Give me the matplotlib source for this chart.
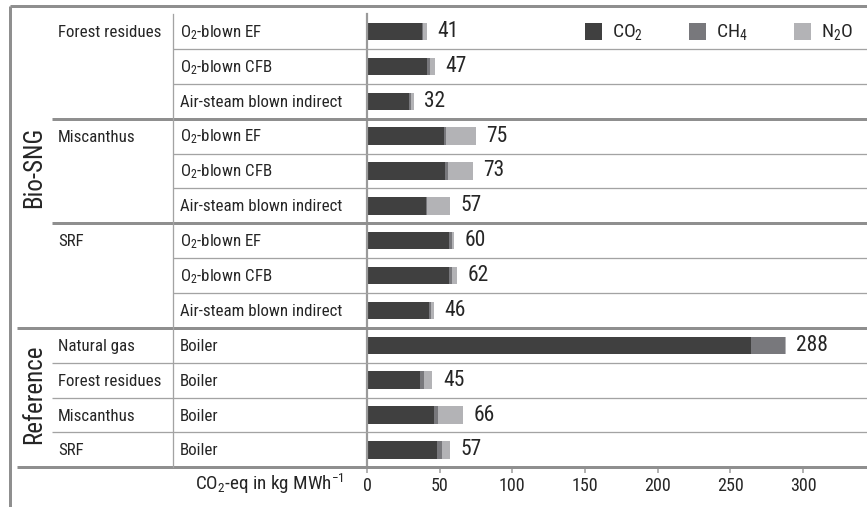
import matplotlib
matplotlib.use('Agg')
import matplotlib.pyplot as plt
import matplotlib.transforms as mtransforms
from matplotlib.lines import Line2D
from matplotlib.patches import Rectangle

# ---------------- data ----------------
groups = ['Bio-SNG', 'Reference']
group_first_row = [0, 9]
group_last_row = [8, 12]
feedstocks = ['Forest residues', '', '', 'Miscanthus', '', '', 'SRF', '', '',
              'Natural gas', 'Forest residues', 'Miscanthus', 'SRF']
technologies = ['O$_2$-blown EF', 'O$_2$-blown CFB', 'Air-steam blown indirect',
                'O$_2$-blown EF', 'O$_2$-blown CFB', 'Air-steam blown indirect',
                'O$_2$-blown EF', 'O$_2$-blown CFB', 'Air-steam blown indirect',
                'Boiler', 'Boiler', 'Boiler', 'Boiler']
co2 = [38.0, 41.3, 29.2, 53.0, 53.9, 40.6, 56.5, 56.5, 42.7, 264.5, 36.5, 46.1, 48.2]
ch4 = [0.5, 1.9, 0.9, 1.4, 1.9, 0.5, 1.8, 2.3, 1.4, 23.0, 2.8, 2.8, 3.5]
n2o = [2.5, 3.8, 1.9, 20.6, 17.2, 15.9, 1.7, 3.2, 1.9, 0.5, 5.7, 17.1, 5.3]
totals = [41, 47, 32, 75, 73, 57, 60, 62, 46, 288, 45, 66, 57]
series_names = ['CO$_2$', 'CH$_4$', 'N$_2$O']
x_ticks = [0, 50, 100, 150, 200, 250, 300]
x_label = 'CO$_2$-eq in kg MWh$^{-1}$'

# ---------------- style ----------------
FONT = ['Roboto Condensed', 'DejaVu Sans']
plt.rcParams['font.family'] = FONT
plt.rcParams['mathtext.fontset'] = 'custom'
plt.rcParams['mathtext.rm'] = 'Roboto Condensed'
plt.rcParams['mathtext.it'] = 'Roboto Condensed:italic'
plt.rcParams['mathtext.bf'] = 'Roboto Condensed:bold'
plt.rcParams['mathtext.default'] = 'regular'

colors = ['#404040', '#78787c', '#b3b3b6']
thick_c = '#8f8f8f'
thin_c = '#a3a3a3'
text_c = '#252525'
W, H = 867, 507
PX = 72.0 / 100.0  # points per pixel


def fx(px):
    return px / W


def fy(py):
    return 1 - py / H


fig = plt.figure(figsize=(W / 100, H / 100), dpi=100)
top_px, bot_px = 14.1, 467.3
ax = fig.add_axes([fx(367), fy(bot_px), fx(867) - fx(367), (bot_px - top_px) / H])

n = len(co2)
rows = list(range(n))
left = [0.0] * n
for vals, c, name in zip([co2, ch4, n2o], colors, series_names):
    cont = ax.barh(rows, vals, left=left, height=0.5, color=c, label=name, linewidth=0)
    left = [a + b for a, b in zip(left, vals)]
ax.bar_label(cont, labels=[str(t) for t in totals], padding=7.5,
             fontsize=15.5, color=text_c)

ax.set_xlim(0, 344)
ax.set_ylim(n - 0.5, -0.5)
ax.set_yticks([])
ax.set_xticks(x_ticks)
ax.set_xticklabels([str(t) for t in x_ticks])
ax.tick_params(axis='x', direction='out', length=6 * PX, width=1.5 * PX,
               color='#9a9a9a', labelsize=13, labelcolor=text_c, pad=3)
for s in ['top', 'right', 'bottom']:
    ax.spines[s].set_visible(False)
ax.spines['left'].set_color('#9a9a9a')
ax.spines['left'].set_linewidth(2.2 * PX)

# ---------------- table lines ----------------
trans = mtransforms.blended_transform_factory(fig.transFigure, ax.transData)


def hline(y, x0px, lw_px, color):
    fig.add_artist(Line2D([fx(x0px), 1.0], [y, y], transform=trans,
                          lw=lw_px * PX, color=color, clip_on=False,
                          solid_capstyle='butt'))


for b in range(n - 1):
    y = b + 0.5
    if b == 8:
        hline(y, 17, 3, thick_c)
    elif b in (2, 5):
        hline(y, 52, 3, thick_c)
    elif b in (9, 10, 11):
        hline(y, 52, 1.3, thin_c)
    else:
        hline(y, 173, 1.3, thin_c)
hline(n - 0.5, 17, 3, thick_c)

# vertical separator between feedstock and technology columns
fig.add_artist(Line2D([fx(173), fx(173)], [-0.5, n - 0.5], transform=trans,
                      lw=1.3 * PX, color=thin_c, clip_on=False))
# outer frame (top and left)
fig.add_artist(Line2D([fx(10), 1.0], [fy(6), fy(6)], transform=fig.transFigure,
                      lw=3 * PX, color=thick_c, solid_capstyle='butt'))
fig.add_artist(Line2D([fx(10), fx(10)], [fy(6), 0.0], transform=fig.transFigure,
                      lw=3 * PX, color=thick_c, solid_capstyle='butt'))

# ---------------- row labels ----------------
base_trans = mtransforms.offset_copy(trans, fig=fig, y=-5.5 * PX, units='points')
for i in rows:
    if feedstocks[i]:
        fig.text(fx(58), i, feedstocks[i], transform=base_trans, ha='left',
                 va='baseline', fontsize=12.2, color=text_c)
    fig.text(fx(180), i, technologies[i], transform=base_trans, ha='left',
             va='baseline', fontsize=12.2, color=text_c)

for g, r0, r1 in zip(groups, group_first_row, group_last_row):
    yc = (r0 + r1) / 2.0 - 0.1
    fig.text(fx(41), yc, g, transform=trans, rotation=90, rotation_mode='anchor',
             ha='center', va='baseline', fontsize=18, color=text_c)

# x-axis label
fig.text(fx(344), fy(490), x_label, ha='right', va='baseline', fontsize=13.8,
         color=text_c)

# ---------------- legend ----------------
leg_sq_x = [585, 689, 794]
for sx, c, name in zip(leg_sq_x, colors, series_names):
    fig.add_artist(Rectangle((fx(sx), fy(40)), 17 / W, 17 / H,
                             transform=fig.transFigure, color=c, lw=0))
    fig.text(fx(sx + 27), fy(37.5), name, ha='left', va='baseline',
             fontsize=14, color=text_c)

fig.savefig('out.png', dpi=100)
